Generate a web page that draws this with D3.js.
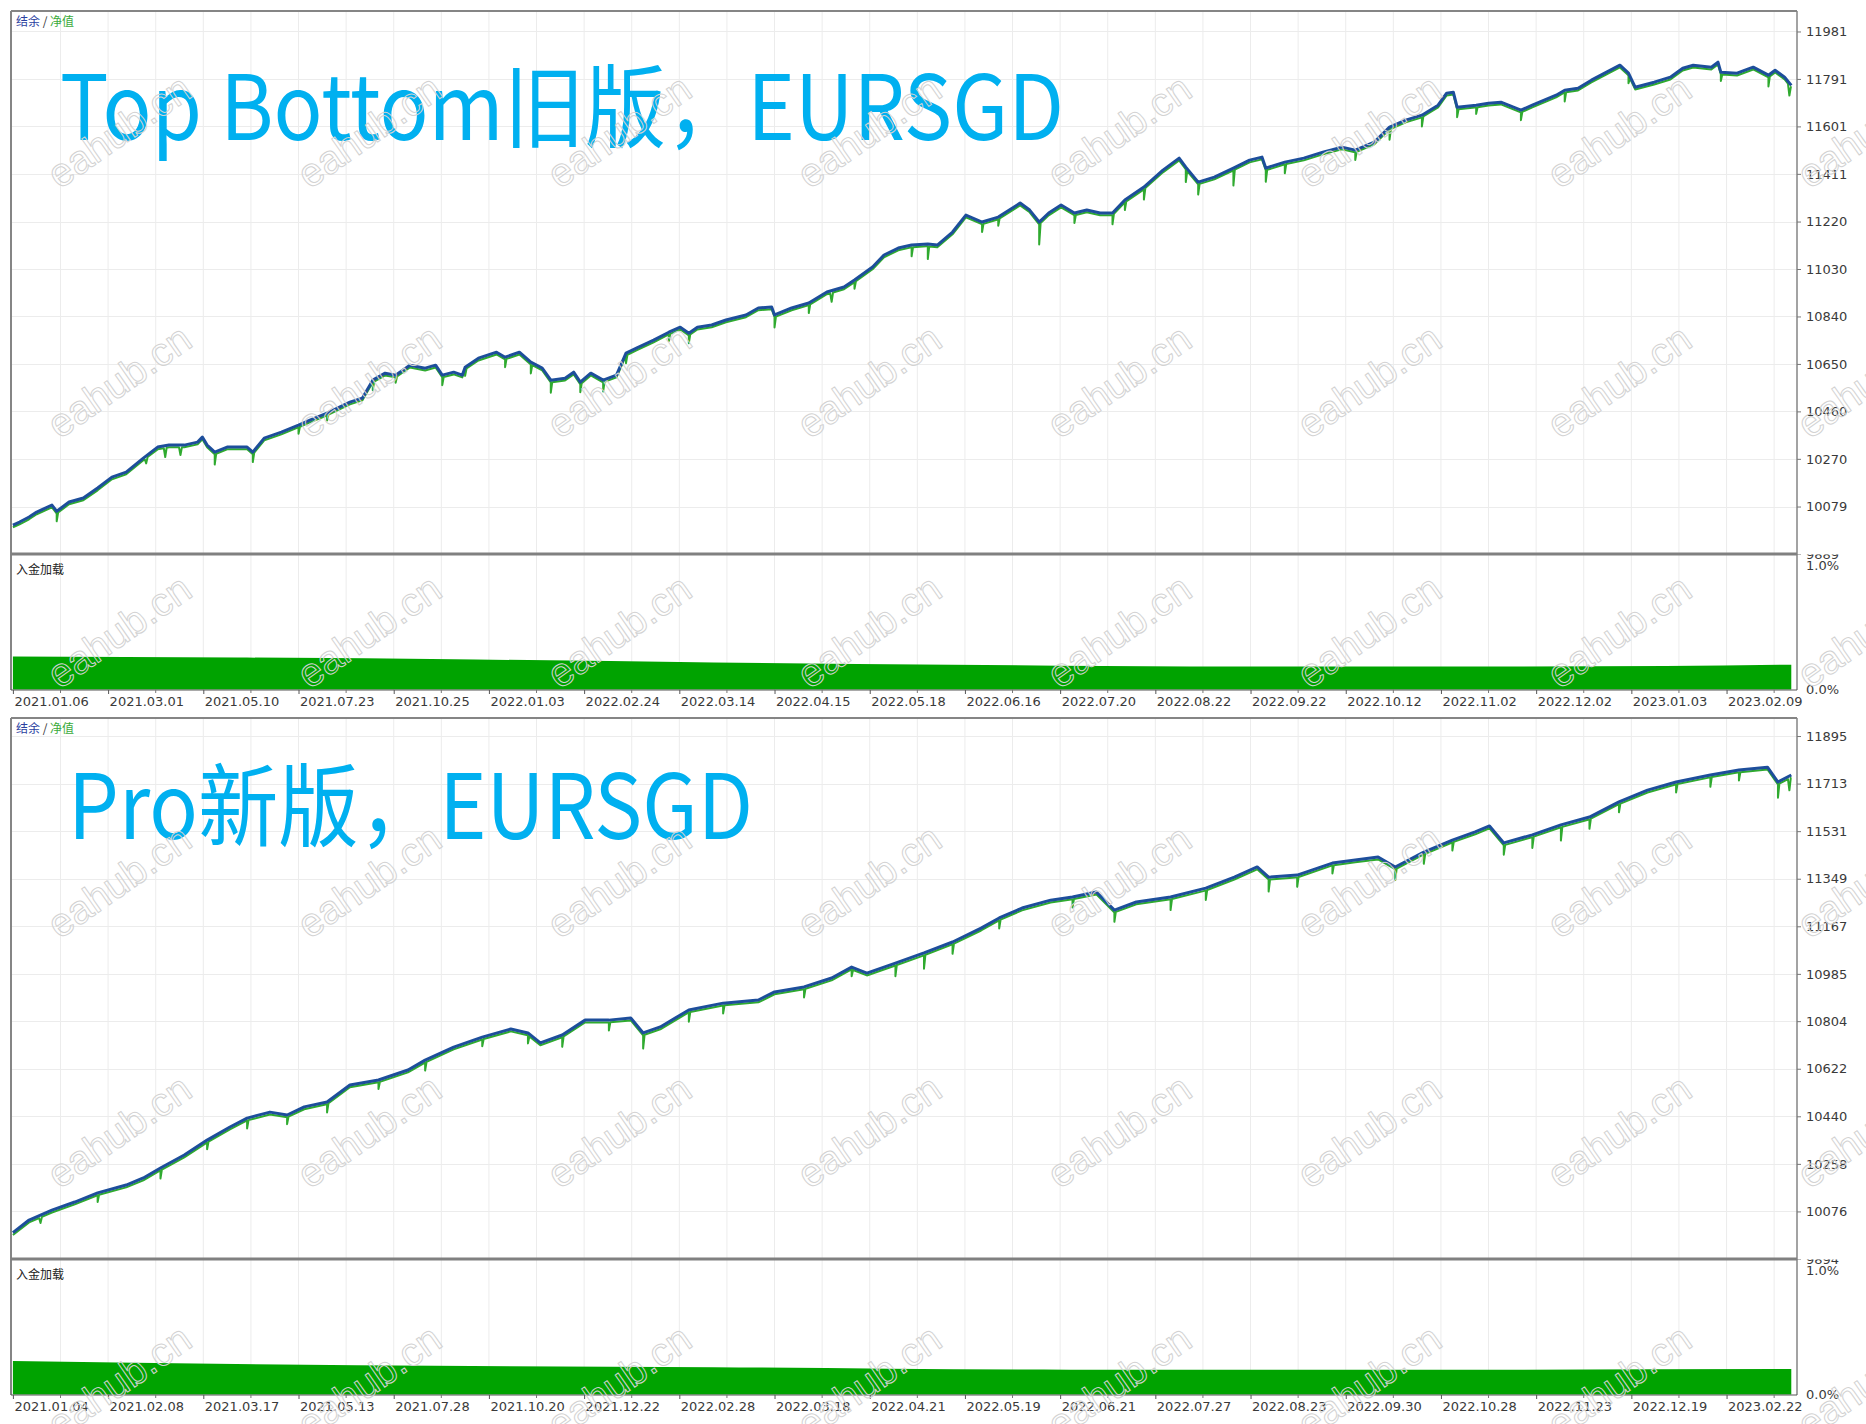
<!DOCTYPE html>
<html><head><meta charset="utf-8">
<script src="https://cdn.jsdelivr.net/npm/d3@7"></script>
<style>body{margin:0;background:#fff}svg{display:block}</style>
</head><body>
<svg id="c" width="1866" height="1424"></svg>
<script>
// ---------------- DATA ----------------
const topTitle = "Top Bottom旧版，EURSGD";
const botTitle = "Pro新版，EURSGD";
const legendBalance = "结余";
const legendEquity = "净值";
const subLabel = "入金加载";

const topDates = ["2021.01.06","2021.03.01","2021.05.10","2021.07.23","2021.10.25","2022.01.03","2022.02.24","2022.03.14","2022.04.15","2022.05.18","2022.06.16","2022.07.20","2022.08.22","2022.09.22","2022.10.12","2022.11.02","2022.12.02","2023.01.03","2023.02.09"];
const botDates = ["2021.01.04","2021.02.08","2021.03.17","2021.05.13","2021.07.28","2021.10.20","2021.12.22","2022.02.28","2022.03.18","2022.04.21","2022.05.19","2022.06.21","2022.07.27","2022.08.23","2022.09.30","2022.10.28","2022.11.23","2022.12.19","2023.02.22"];

const topTicks = [9889,10079,10270,10460,10650,10840,11030,11220,11411,11601,11791,11981];
const botTicks = [9894,10076,10258,10440,10622,10804,10985,11167,11349,11531,11713,11895];
const loadTicks = [0, 1];

// balance: [deal number, balance]
const topBalance = [[0,10005],[7,10017],[17,10037],[25,10057],[41,10085],[46,10060],[59,10097],[74,10113],[89,10153],[104,10197],[119,10217],[137,10273],[152,10317],[164,10325],[180,10325],[194,10337],[199,10357],[204,10325],[212,10297],[225,10317],[246,10317],[252,10297],[264,10353],[282,10377],[300,10405],[312,10425],[330,10453],[354,10497],[367,10513],[378,10585],[391,10613],[402,10605],[417,10645],[433,10633],[444,10645],[451,10605],[463,10617],[472,10605],[475,10637],[489,10673],[508,10697],[517,10677],[532,10697],[544,10657],[556,10633],[565,10585],[580,10593],[589,10617],[596,10577],[607,10613],[620,10585],[634,10605],[644,10693],[655,10713],[673,10745],[689,10777],[701,10797],[710,10773],[719,10797],[734,10806],[749,10826],[770,10846],[783,10874],[797,10878],[800,10846],[818,10874],[836,10894],[855,10938],[873,10958],[884,10986],[903,11038],[915,11086],[930,11114],[944,11126],[961,11130],[971,11126],[987,11178],[1001,11246],[1018,11218],[1035,11238],[1058,11294],[1068,11266],[1078,11218],[1088,11254],[1101,11286],[1115,11254],[1128,11266],[1142,11254],[1155,11254],[1168,11306],[1188,11358],[1208,11426],[1225,11474],[1232,11438],[1245,11378],[1262,11398],[1282,11434],[1299,11466],[1312,11478],[1316,11434],[1336,11458],[1356,11474],[1376,11498],[1396,11518],[1410,11506],[1430,11538],[1446,11598],[1463,11626],[1480,11646],[1497,11686],[1506,11734],[1513,11738],[1517,11678],[1537,11686],[1550,11694],[1563,11698],[1584,11666],[1596,11686],[1621,11726],[1630,11746],[1644,11754],[1658,11786],[1674,11818],[1688,11846],[1697,11814],[1704,11758],[1724,11778],[1741,11798],[1754,11834],[1765,11846],[1784,11838],[1791,11858],[1794,11818],[1811,11814],[1828,11838],[1838,11818],[1844,11806],[1851,11826],[1861,11798],[1868,11765]];
// equity drawdown spikes below balance: [deal, depth]
const topEquitySpikes = [[46,40],[140,30],[160,45],[176,40],[212,50],[252,40],[300,35],[330,30],[378,40],[402,30],[451,40],[475,35],[517,40],[544,45],[565,50],[596,40],[620,45],[644,40],[689,35],[710,40],[800,50],[836,40],[860,45],[884,35],[944,45],[961,60],[1018,40],[1035,35],[1078,90],[1115,40],[1155,45],[1168,40],[1188,50],[1232,60],[1245,50],[1282,70],[1316,55],[1336,45],[1410,40],[1446,50],[1480,45],[1517,40],[1537,35],[1584,40],[1630,45],[1697,40],[1794,35],[1844,45],[1866,50]];
const topLoad = [[0,0.266],[236,0.258],[486,0.242],[736,0.218],[986,0.2],[1236,0.185],[1486,0.185],[1736,0.19],[1868,0.2]];

const botBalance = [[0,9995],[17,10043],[41,10081],[65,10112],[89,10147],[119,10177],[137,10204],[155,10242],[180,10292],[204,10349],[228,10399],[246,10433],[270,10456],[288,10445],[306,10476],[330,10495],[354,10560],[384,10579],[415,10617],[433,10655],[463,10705],[493,10743],[523,10774],[541,10759],[554,10721],[577,10751],[601,10808],[626,10808],[649,10816],[662,10759],[680,10782],[710,10847],[746,10873],[783,10885],[800,10916],[831,10935],[860,10969],[881,11011],[897,10988],[927,11026],[957,11065],[987,11107],[1017,11160],[1036,11199],[1060,11237],[1090,11267],[1113,11279],[1138,11298],[1157,11229],[1180,11260],[1216,11279],[1253,11313],[1283,11355],[1307,11394],[1319,11355],[1349,11363],[1386,11409],[1410,11421],[1434,11432],[1452,11394],[1482,11451],[1512,11497],[1536,11528],[1551,11551],[1566,11486],[1596,11517],[1626,11555],[1656,11585],[1687,11643],[1717,11688],[1747,11719],[1783,11746],[1813,11765],[1843,11776],[1854,11719],[1868,11746]];
const botEquitySpikes = [[29,30],[89,35],[155,40],[204,35],[246,40],[288,35],[330,40],[384,35],[433,40],[493,35],[541,40],[577,45],[626,40],[662,60],[710,45],[746,40],[831,40],[881,35],[927,50],[957,60],[987,45],[1036,40],[1113,40],[1157,45],[1216,50],[1253,45],[1319,55],[1349,45],[1386,40],[1452,50],[1482,45],[1512,40],[1566,45],[1596,50],[1626,60],[1656,45],[1687,40],[1747,40],[1783,45],[1813,40],[1854,60],[1866,55]];
const botLoad = [[0,0.27],[361,0.236],[736,0.22],[1111,0.2],[1486,0.2],[1868,0.205]];

// ---------------- DRAWING ----------------
const svg = d3.select("#c");
const X0 = 11, X1 = 1797;
const x = d3.scaleLinear().domain([-2, 1874]).range([X0, X1]);
const BLUE = "#1d4e9b", GREEN = "#2faa2f", AREA = "#00a300", GRID = "#ececec", FRAME = "#858585";
const CJK = "'Noto Sans CJK SC', sans-serif";
const AX = "'DejaVu Sans', sans-serif";

function equityPoints(bal, spikes, base) {
  const interp = d3.scaleLinear().domain(bal.map(d => d[0])).range(bal.map(d => d[1]));
  const pts = bal.map(d => [d[0], d[1] - base]);
  spikes.forEach(([d, depth]) => {
    pts.push([d - 1.5, interp(d - 1.5) - base], [d, interp(d) - depth], [d + 1.5, interp(d + 1.5) - base]);
  });
  return pts.sort((a, b) => a[0] - b[0]);
}

function drawPanel(cfg, idx) {
  const g = svg.append("g");
  const y = d3.scaleLinear().domain(cfg.yDomain).range([cfg.mainBottom, cfg.top]);
  const ys = d3.scaleLinear().domain([0, 1]).range([cfg.subBottom - 0.5, cfg.subBottom - 124.5]);

  // grids
  g.append("g").selectAll("line").data(d3.range(50, 1874, 50)).join("line")
    .attr("x1", d => x(d)).attr("x2", d => x(d)).attr("y1", cfg.top).attr("y2", cfg.subBottom)
    .attr("stroke", GRID).attr("stroke-width", 1);
  g.append("g").selectAll("line").data(cfg.ticks.slice(1)).join("line")
    .attr("x1", X0).attr("x2", X1).attr("y1", d => Math.round(y(d)) + 0.5).attr("y2", d => Math.round(y(d)) + 0.5)
    .attr("stroke", GRID).attr("stroke-width", 1);

  // deposit load area
  g.append("path").datum(cfg.load)
    .attr("d", d3.area().x(d => x(d[0])).y0(ys(0)).y1(d => ys(d[1])).curve(d3.curveMonotoneX))
    .attr("fill", AREA);

  // equity then balance
  const line = d3.line().x(d => x(d[0])).y(d => y(d[1]));
  g.append("path").datum(equityPoints(cfg.balance, cfg.spikes, 9))
    .attr("d", line).attr("fill", "none").attr("stroke", GREEN).attr("stroke-width", 2).attr("stroke-linejoin", "round");
  g.append("path").datum(cfg.balance)
    .attr("d", line).attr("fill", "none").attr("stroke", BLUE).attr("stroke-width", 3).attr("stroke-linejoin", "round");

  // frame
  g.append("line").attr("x1", X0).attr("x2", X1).attr("y1", cfg.top).attr("y2", cfg.top).attr("stroke", FRAME).attr("stroke-width", 2);
  g.append("line").attr("x1", X0).attr("x2", X0).attr("y1", cfg.top).attr("y2", cfg.subBottom).attr("stroke", FRAME).attr("stroke-width", 2);
  g.append("line").attr("x1", X1).attr("x2", X1).attr("y1", cfg.top).attr("y2", cfg.subBottom).attr("stroke", FRAME).attr("stroke-width", 1.5);
  g.append("line").attr("x1", X0).attr("x2", X1).attr("y1", cfg.mainBottom).attr("y2", cfg.mainBottom).attr("stroke", "#808080").attr("stroke-width", 3);
  g.append("line").attr("x1", X0).attr("x2", X1).attr("y1", cfg.subBottom).attr("y2", cfg.subBottom).attr("stroke", "#555").attr("stroke-width", 1);

  // right value axis
  const clipId = "clip" + idx;
  svg.append("clipPath").attr("id", clipId).append("rect")
    .attr("x", 0).attr("y", 0).attr("width", 1866).attr("height", cfg.mainBottom + 2);
  const ya = g.append("g").attr("transform", `translate(${X1},0)`)
    .call(d3.axisRight(y).tickValues(cfg.ticks).tickSize(4).tickPadding(5).tickFormat(d => d));
  ya.select(".domain").remove();
  ya.attr("font-family", AX).attr("font-size", 13);
  ya.selectAll("text").attr("fill", "#3a3a3a");
  ya.selectAll("line").attr("stroke", "#777");
  ya.selectAll(".tick").filter(d => d === cfg.ticks[0]).attr("clip-path", `url(#${clipId})`);

  const la = g.append("g").attr("transform", `translate(${X1},0)`)
    .call(d3.axisRight(ys).tickValues(loadTicks).tickSize(0).tickPadding(9).tickFormat(d => d.toFixed(1) + "%"));
  la.select(".domain").remove();
  la.attr("font-family", AX).attr("font-size", 13);
  la.selectAll("text").attr("fill", "#3a3a3a");

  // bottom date axis
  const xa = g.append("g").attr("transform", `translate(0,${cfg.subBottom})`)
    .call(d3.axisBottom(x).tickValues(d3.range(0, 1801, 100)).tickSize(4).tickPadding(3).tickFormat((d, i) => cfg.dates[i]));
  xa.select(".domain").remove();
  xa.attr("font-family", AX).attr("font-size", 13);
  xa.selectAll("text").attr("text-anchor", "start").attr("dx", 1).attr("fill", "#3a3a3a");
  xa.selectAll("line").attr("stroke", "#555");
  g.append("g").selectAll("line").data(d3.range(50, 1874, 100)).join("line")
    .attr("x1", d => x(d)).attr("x2", d => x(d)).attr("y1", cfg.subBottom).attr("y2", cfg.subBottom + 3)
    .attr("stroke", "#777");

  // legend & labels
  const lg = g.append("text").attr("x", 16).attr("y", cfg.top + 15).attr("font-family", CJK).attr("font-size", 12);
  lg.append("tspan").text(legendBalance).attr("fill", "#2b3f9f");
  lg.append("tspan").text(" / ").attr("fill", "#333");
  lg.append("tspan").text(legendEquity).attr("fill", "#3aaa3a");
  g.append("text").attr("x", 16).attr("y", cfg.mainBottom + 20).attr("font-family", CJK).attr("font-size", 12)
    .attr("fill", "#222").text(subLabel);

  // title
  g.append("text").attr("x", cfg.titleX).attr("y", cfg.titleY)
    .attr("font-family", CJK).attr("font-size", 90).attr("fill", "#00b0f0")
    .attr("textLength", cfg.titleW).attr("lengthAdjust", "spacingAndGlyphs").text(cfg.title);
}

drawPanel({top: 11, mainBottom: 554, subBottom: 690, yDomain: [9889, 12063], ticks: topTicks,
  balance: topBalance, spikes: topEquitySpikes, load: topLoad, dates: topDates,
  title: topTitle, titleX: 60, titleY: 140, titleW: 1004}, 0);
drawPanel({top: 718, mainBottom: 1259, subBottom: 1395, yDomain: [9894, 11964], ticks: botTicks,
  balance: botBalance, spikes: botEquitySpikes, load: botLoad, dates: botDates,
  title: botTitle, titleX: 68, titleY: 839, titleW: 685}, 1);

// watermark
const wm = svg.append("g").attr("pointer-events", "none");
for (let j = 0; j < 6; j++) {
  for (let k = 0; k < 8; k++) {
    const cx = 119 + 250 * k, cy = 131 + 250 * j;
    wm.append("text").attr("transform", `translate(${cx},${cy}) rotate(-35)`)
      .attr("text-anchor", "middle").attr("dy", "0.35em")
      .attr("font-family", "'Liberation Sans', sans-serif").attr("font-size", 40)
      .attr("fill", "none").attr("stroke", "#d2d2d2").attr("stroke-width", 1).text("eahub.cn");
  }
}
</script>
</body></html>
